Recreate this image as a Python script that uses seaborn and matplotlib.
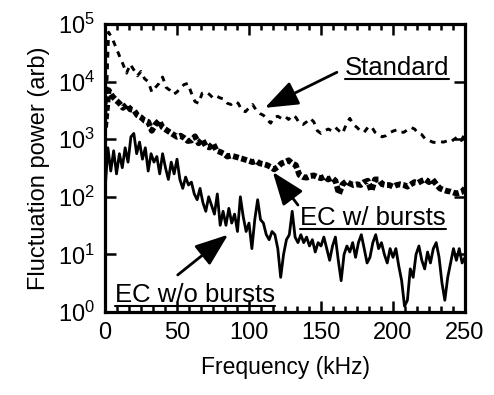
import numpy as np
import pandas as pd
import matplotlib
matplotlib.use("Agg")
import matplotlib.pyplot as plt
import matplotlib.ticker as mticker
from matplotlib.lines import Line2D
import seaborn as sns

# ---------------- data ----------------
freq_std = np.arange(0, 250.01, 2.5)       # kHz
standard = [
    1000, 72000, 56000, 40000, 28000, 20000, 14000, 20000, 16000, 12600,
    15000, 11200, 10000, 6600, 7900, 9300, 12000, 7900, 7100, 6000,
    6600, 7900, 8900, 9300, 6300, 4500, 4200, 6300, 6600, 6000,
    5200, 5600, 5200, 5000, 4200, 4000, 4500, 4200, 3200, 3000,
    3500, 4000, 3200, 2800, 2600, 2200, 1900, 2400, 2500, 2300,
    2500, 2200, 2600, 2400, 1900, 1800, 2000, 2300, 2000, 1400,
    1260, 1400, 1500, 1400, 1600, 1400, 1260, 1800, 2300, 1800,
    1600, 1380, 1320, 1600, 1660, 1320, 1200, 1100, 1150, 1290,
    1380, 1450, 1320, 1320, 1450, 1600, 1500, 1260, 1200, 1000,
    950, 890, 870, 910, 890, 930, 890, 1000, 1100, 950,
    1260,
]

freq_wb = np.arange(0, 250.01, 2.5)
ec_with_bursts = [
    1600, 7100, 5600, 4800, 4200, 3500, 4000, 3300, 3200, 2600,
    2400, 2100, 2000, 1400, 1800, 2100, 1600, 1450, 1320, 1200,
    1100, 1150, 1050, 930, 950, 1120, 850, 1000, 760, 720,
    850, 630, 600, 560, 500, 520, 500, 480, 460, 440,
    420, 400, 420, 380, 370, 355, 330, 300, 330, 380,
    400, 430, 380, 355, 240, 220, 215, 230, 235, 220,
    210, 225, 200, 215, 190, 112, 165, 185, 170, 160,
    165, 160, 180, 190, 126, 200, 200, 165, 160, 160,
    150, 160, 165, 160, 150, 165, 180, 175, 190, 200,
    180, 200, 165, 140, 132, 126, 123, 117, 115, 120,
    140,
]

freq_wo = np.arange(0, 250.01, 2.0)
ec_without_bursts = [
    126, 710, 280, 630, 250, 560, 320, 710, 400, 1100,
    1260, 560, 890, 450, 710, 280, 560, 400, 500, 250,
    560, 320, 200, 400, 250, 450, 200, 140, 220, 160,
    180, 112, 89, 140, 79, 56, 100, 71, 50, 112,
    32, 56, 32, 63, 35, 50, 25, 100, 45, 25,
    35, 12.6, 40, 89, 40, 35, 22, 18, 25, 22,
    12.6, 4.0, 10, 18, 22, 56, 20, 16, 22, 16,
    20, 14, 18, 11, 16, 14, 20, 12.6, 7.9, 14,
    20, 7.9, 3.5, 10, 14, 11, 16, 8.9, 16, 22,
    12.6, 7.1, 8.9, 16, 22, 12.6, 16, 10, 7.1, 12.6,
    8.9, 12.6, 6.3, 3.5, 1.26, 1.6, 5.6, 4.0, 10, 14,
    7.9, 5.6, 11, 7.1, 12.6, 16, 8.9, 3.2, 1.6, 4.0,
    7.1, 12.6, 7.9, 12.6, 7.1, 8.9,
]

labels = ["Standard", "EC w/ bursts", "EC w/o bursts"]
x_ticks = [0, 50, 100, 150, 200, 250]
y_ticks = [1, 10, 100, 1000, 10000, 100000]

# ---------------- style ----------------
sns.set_style("ticks")
plt.rcParams["font.family"] = ["Liberation Sans", "DejaVu Sans"]
plt.rcParams["mathtext.fontset"] = "custom"
plt.rcParams["mathtext.rm"] = "Liberation Sans"
plt.rcParams["mathtext.it"] = "Liberation Sans:italic"
plt.rcParams["mathtext.bf"] = "Liberation Sans:bold"
for k in ("text.color", "axes.labelcolor", "xtick.color", "ytick.color",
          "axes.edgecolor"):
    plt.rcParams[k] = "black"

fig = plt.figure(figsize=(4.94, 3.95), dpi=100)
ax = fig.add_axes([105 / 494, 1 - 312 / 395, 360 / 494, 288 / 395])

df_std = pd.DataFrame({"f": freq_std, "p": standard})
df_wb = pd.DataFrame({"f": freq_wb, "p": ec_with_bursts})
df_wo = pd.DataFrame({"f": freq_wo, "p": ec_without_bursts})

sns.lineplot(data=df_std, x="f", y="p", ax=ax, color="black", lw=2.1,
             linestyle=(0, (2.0, 2.0)), estimator=None, sort=False)
sns.lineplot(data=df_wb, x="f", y="p", ax=ax, color="black", lw=4.2,
             linestyle=(0, (1.0, 0.45)), estimator=None, sort=False)
sns.lineplot(data=df_wo, x="f", y="p", ax=ax, color="black", lw=2.0,
             estimator=None, sort=False)

ax.set_yscale("log")
ax.set_xlim(0, 250)
ax.set_ylim(1, 1e5)
ax.xaxis.set_major_locator(mticker.FixedLocator(x_ticks))
ax.xaxis.set_minor_locator(mticker.MultipleLocator(50 / 6))
ax.yaxis.set_major_locator(mticker.FixedLocator(y_ticks))
ax.yaxis.set_minor_locator(mticker.NullLocator())
ax.yaxis.set_major_formatter(mticker.FuncFormatter(
    lambda v, p: r"$\mathregular{10^{%d}}$" % int(round(np.log10(v)))))
ax.xaxis.set_major_formatter(mticker.FuncFormatter(lambda v, p: "%d" % v))

ax.tick_params(which="both", direction="in", top=True, right=True,
               width=1.8, colors="black", labelsize=17)
ax.tick_params(which="major", length=8, pad=7)
ax.tick_params(which="minor", length=4.5)
for s in ax.spines.values():
    s.set_linewidth(2.3)
    s.set_color("black")

ax.set_xlabel("Frequency (kHz)", fontsize=16.5, labelpad=9, color="black")
ax.set_ylabel("Fluctuation power (arb)", fontsize=17, labelpad=6, color="black")

# ---------------- annotations ----------------
arrow_kw = dict(arrowstyle="-|>,head_length=1.2,head_width=0.45",
                color="black", lw=2.0, mutation_scale=17,
                shrinkA=0, shrinkB=0)
txt_std = ax.text(166.5, 1.3e4, labels[0], fontsize=18.5, ha="left",
                  va="baseline", color="black")
ax.annotate("", xy=(111, 3500), xytext=(161, 1.45e4), arrowprops=arrow_kw)

txt_wb = ax.text(135.5, 32, labels[1], fontsize=18.5, ha="left",
                 va="baseline", color="black")
ax.annotate("", xy=(116.5, 270), xytext=(134, 72), arrowprops=arrow_kw)

txt_wo = ax.text(7, 1.5, labels[2], fontsize=18.5, ha="left",
                 va="baseline", color="black")
ax.annotate("", xy=(85.5, 22), xytext=(50.5, 4.4), arrowprops=arrow_kw)

# underline the three labels
fig.canvas.draw()
r = fig.canvas.get_renderer()
for t in (txt_std, txt_wb, txt_wo):
    bb = t.get_window_extent(renderer=r)
    y0 = bb.y0 + 1.0
    ln = Line2D([bb.x0, bb.x1], [y0, y0], transform=None, color="black", lw=1.5)
    fig.add_artist(ln)

fig.savefig("out.png", dpi=100)
